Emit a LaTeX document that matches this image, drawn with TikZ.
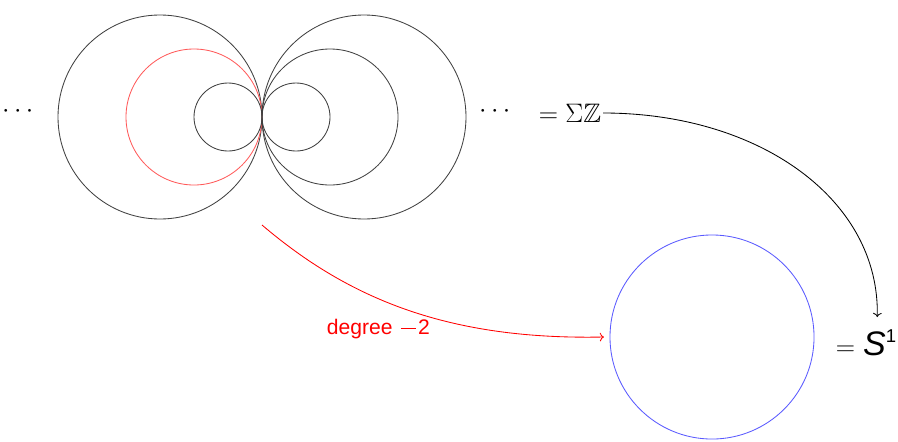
\documentclass[tikz,border=0pt]{standalone}
\usepackage{amsmath,amssymb}
\usepackage{fontspec}
\newfontfamily\labelfont{Liberation Sans}
\usetikzlibrary{positioning, arrows.meta}

\begin{document}
\begin{tikzpicture}[
    x=0.025cm, y=-0.025cm,
    loopline/.style={draw=black!75, line width=0.6pt},
    redloop/.style={draw=red!65, line width=0.6pt},
    mathlabel/.style={font=\LARGE, scale=1.1, transform shape, inner sep=1pt},
    mapline/.style={->, line width=0.6pt},
]
\useasboundingbox (0,0) rectangle (898,441);

% wedge of circles, all tangent at one point
\coordinate (tangent) at (262,117);
\draw[loopline] (160,117) circle[radius=102];
\draw[redloop]  (194,117) circle[radius=68];
\draw[loopline] (228,117) circle[radius=34];
\draw[loopline] (296,117) circle[radius=34];
\draw[loopline] (330,117) circle[radius=68];
\draw[loopline] (364,117) circle[radius=102];
\coordinate (wedge) at (262,225);

\node[mathlabel] (ldots) at (20,112) {$\cdots$};
\node[mathlabel] (rdots) at (497,112) {$\cdots$};
\node[mathlabel] (suspension) at (570,113) {$=\Sigma\mathbb{Z}$};

% the base circle
\node[circle, draw=blue!65, line width=0.6pt, minimum size=5.1cm, inner sep=0pt] (base) at (712,337) {};
\node[mathlabel] (sphere) at (866,343) {$=$ {\labelfont\itshape\fontsize{22}{26}\selectfont S}\raisebox{1.1ex}{\labelfont\large 1}};

% maps
\draw[mapline, red] (wedge) .. controls (350,300) and (450,340) .. ([xshift=-4pt]base.west)
    node[pos=0.55, anchor=east, xshift=0.25cm, yshift=-0.33cm, font=\labelfont\fontsize{15}{18}\selectfont] (degree) {degree\hspace{0.4em}\rule[0.26em]{0.7em}{0.06em}\hspace{0.12em}2};
\draw[mapline] (suspension.east) .. controls (760,113) and (880,200) .. ([xshift=8pt, yshift=8pt]sphere.north);

\end{tikzpicture}
\end{document}
